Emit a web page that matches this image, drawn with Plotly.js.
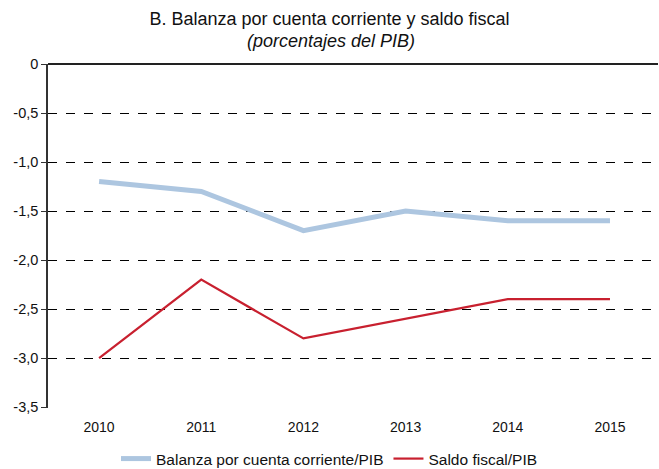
<!DOCTYPE html>
<html><head><meta charset="utf-8">
<script src="https://cdn.plot.ly/plotly-3.0.1.min.js"></script>
<style>html,body{margin:0;padding:0;background:#fff}#chart{width:659px;height:469px}</style>
</head><body><div id="chart"></div>
<script>
var years = ["2010","2011","2012","2013","2014","2015"];
var balanza = [-1.2, -1.3, -1.7, -1.5, -1.6, -1.6];
var saldo = [-3.0, -2.2, -2.8, -2.6, -2.4, -2.4];
var tickVals = [0, -0.5, -1.0, -1.5, -2.0, -2.5, -3.0, -3.5];
var tickText = ["0", "-0,5", "-1,0", "-1,5", "-2,0", "-2,5", "-3,0", "-3,5"];

var traces = [
  {x: years, y: balanza, type: "scatter", mode: "lines", name: "Balanza por cuenta corriente/PIB",
   line: {color: "#adc6e0", width: 5}},
  {x: years, y: saldo, type: "scatter", mode: "lines", name: "Saldo fiscal/PIB",
   line: {color: "#c8202f", width: 2.2}}
];
var layout = {
  width: 659, height: 469,
  margin: {l: 48, r: 1, t: 64, b: 61, autoexpand: false},
  paper_bgcolor: "#fff", plot_bgcolor: "#fff",
  font: {family: "Liberation Sans, Arial, sans-serif", size: 14, color: "#111"},
  title: {text: "B. Balanza por cuenta corriente y saldo fiscal",
          font: {size: 18, color: "#111"}, x: 0.5, xref: "container", xanchor: "center",
          y: 1 - 19/469, yref: "container", yanchor: "middle"},
  annotations: [{text: "<i>(porcentajes del PIB)</i>", xref: "paper", yref: "paper",
                 x: 0.5 - 22/610, y: (407 - 41)/343, xanchor: "center", yanchor: "middle",
                 showarrow: false, font: {size: 18, color: "#111"}}],
  xaxis: {type: "category", range: [-0.5, 5.47], showgrid: false, zeroline: false,
          showline: false, ticks: "outside", ticklen: 6, tickcolor: "rgba(0,0,0,0)", tickfont: {size: 14}},
  yaxis: {range: [-3.51, 0], tickvals: tickVals, ticktext: tickText, showgrid: true,
          gridcolor: "#000", griddash: "dash", gridwidth: 1, zeroline: true, zerolinecolor: "#222", zerolinewidth: 1.5,
          showline: true, linecolor: "#333", linewidth: 1.5, ticks: "outside", ticklen: 5, tickcolor: "#333",
          tickfont: {size: 14.5}},
  showlegend: true,
  legend: {orientation: "h", xref: "container", x: 0.5, xanchor: "center",
           yref: "container", y: 10/469, yanchor: "middle", font: {size: 15.5}}
};
Plotly.newPlot("chart", traces, layout, {displayModeBar: false});
</script></body></html>
